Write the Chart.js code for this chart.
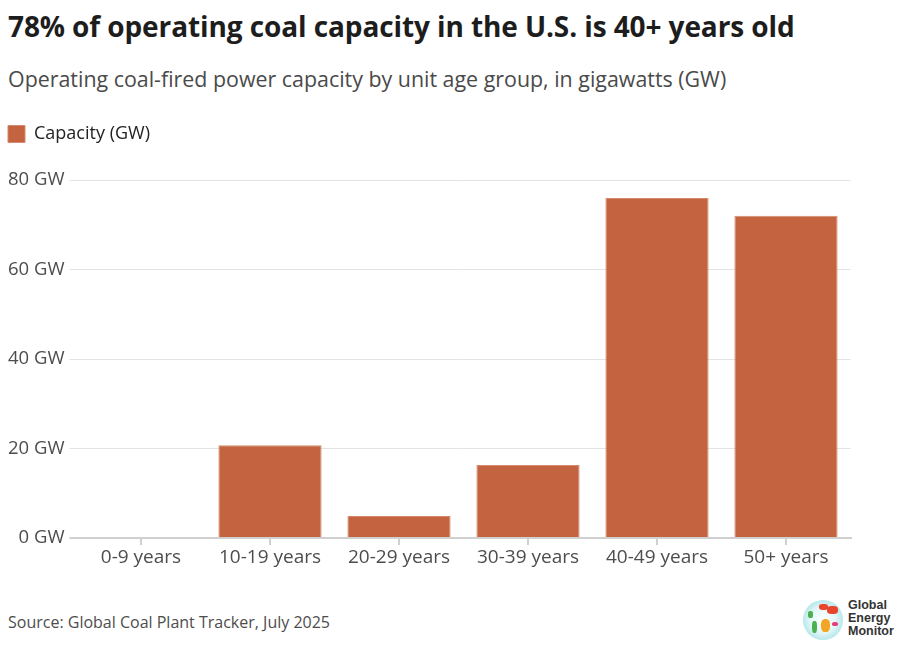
<!DOCTYPE html>
<html>
<head>
<meta charset="utf-8">
<script src="https://cdn.jsdelivr.net/npm/chart.js@4"></script>
<style>
  body { margin: 0; background: #fff; font-family: 'Open Sans', sans-serif; }
  #wrap { position: relative; width: 900px; height: 652px; overflow: hidden; }
  h1 { position: absolute; left: 8px; top: 7px; margin: 0; font-size: 28px; font-weight: 700; color: #1d1d1d; letter-spacing: -0.1px; }
  .sub { position: absolute; left: 8px; top: 64px; font-size: 21.4px; color: #4a4a4a; }
  .src { position: absolute; left: 8px; top: 611px; font-size: 16px; color: #4d4d4d; }
  #box { position: absolute; left: 0; top: 112px; width: 900px; height: 460px; }
  .logo { position: absolute; left: 803px; top: 600px; width: 40px; height: 40px; border-radius: 50%;
    background: radial-gradient(circle at 50% 50%, #ffffff 0%, #e3f7f8 45%, #86d6db 100%); overflow: hidden; }
  .logo span { position: absolute; border-radius: 40%; }
  .logotxt { position: absolute; left: 848px; top: 599px; font-family: 'Liberation Sans', Arial, sans-serif;
    font-weight: 700; font-size: 12.5px; line-height: 13px; color: #333; }
</style>
</head>
<body>
<div id="wrap">
  <h1>78% of operating coal capacity in the U.S. is 40+ years old</h1>
  <div class="sub">Operating coal-fired power capacity by unit age group, in gigawatts (GW)</div>
  <div id="box"><canvas id="coal"></canvas></div>
  <div class="src">Source: Global Coal Plant Tracker, July 2025</div>
  <div class="logo">
    <span style="left:16px;top:4px;width:9px;height:6px;background:#e8452c"></span>
    <span style="left:24px;top:6px;width:11px;height:8px;background:#e8452c"></span>
    <span style="left:5px;top:11px;width:5px;height:7px;background:#4caf50"></span>
    <span style="left:9px;top:21px;width:5px;height:12px;background:#4caf50"></span>
    <span style="left:18px;top:19px;width:9px;height:13px;background:#f2a623"></span>
    <span style="left:29px;top:22px;width:6px;height:4px;background:#e6407a"></span>
  </div>
  <div class="logotxt">Global<br>Energy<br>Monitor</div>
</div>
<script>
const ageGroups = ['0-9 years', '10-19 years', '20-29 years', '30-39 years', '40-49 years', '50+ years']
const capacityGW = [0, 20.7, 4.9, 16.3, 76.0, 72.0]
const yTicks = [0, 20, 40, 60, 80]

Chart.defaults.font.family = "'Open Sans', sans-serif"
Chart.defaults.color = '#4d4d4d'

// make the legend block a fixed height so the plot starts where it should
const legendHeight = {
  id: 'legendHeight',
  beforeInit(chart) {
    const fit = chart.legend.fit
    chart.legend.fit = function () {
      fit.call(this)
      this.height = 63
    }
  }
}

const ctx = document.getElementById('coal')

new Chart(ctx, {
  type: 'bar',
  data: {
    labels: ageGroups,
    datasets: [{
      label: 'Capacity (GW)',
      data: capacityGW,
      backgroundColor: '#c4633f',
      borderColor: '#d58a6c',
      borderWidth: 1,
      categoryPercentage: 0.8,
      barPercentage: 1
    }]
  },
  options: {
    responsive: true,
    maintainAspectRatio: false,
    animation: false,
    layout: { padding: { left: 0, right: 49.5, top: 5, bottom: 0 } },
    plugins: {
      legend: {
        align: 'start',
        labels: {
          boxWidth: 17,
          boxHeight: 17,
          padding: 8,
          color: '#222',
          font: { size: 18 }
        }
      },
      tooltip: { enabled: false }
    },
    scales: {
      x: {
        grid: {
          offset: false,
          drawOnChartArea: false,
          drawTicks: true,
          tickLength: 7,
          color: '#d0d0d0',
          lineWidth: 2
        },
        border: { color: '#d0d0d0', width: 2 },
        ticks: { font: { size: 19 }, color: '#4d4d4d', padding: 1 },
        afterFit(scale) { scale.height = 34 }
      },
      y: {
        min: 0,
        max: 80,
        afterBuildTicks(scale) { scale.ticks = yTicks.map(v => ({ value: v })) },
        grid: {
          color: c => c.tick && c.tick.value === 0 ? '#d0d0d0' : '#e3e3e3',
          lineWidth: c => c.tick && c.tick.value === 0 ? 2 : 1,
          tickLength: 7
        },
        border: { display: false },
        ticks: {
          font: { size: 18.5 },
          color: '#4d4d4d',
          padding: 5,
          callback: v => v + ' GW'
        },
        afterFit(scale) { scale.width = 76.5 }
      }
    }
  },
  plugins: [legendHeight]
})
</script>
</body>
</html>
